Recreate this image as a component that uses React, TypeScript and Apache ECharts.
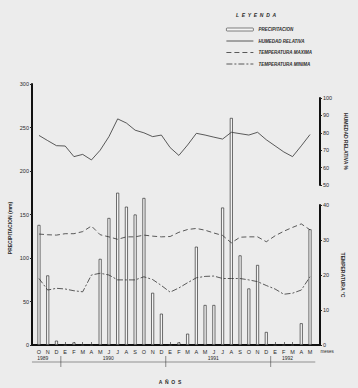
import React, { useEffect, useRef } from "react";
import * as echarts from "echarts";

const months = ["O","N","D","E","F","M","A","M","J","J","A","S","O","N","D","E","F","M","A","M","J","J","A","S","O","N","D","E","F","M","A","M"];
const precipitation = [138, 80, 5, 0, 3, 0, 0, 99, 146, 175, 159, 150, 169, 60, 36, 0, 3, 13, 113, 46, 46, 158, 261, 103, 65, 92, 15, 0, 0, 0, 25, 133];
const humidity = [78.5, 75.5, 72.6, 72.4, 66.3, 67.6, 64.4, 70, 77.8, 88, 85.6, 81.5, 80, 77.8, 78.7, 71.5, 67, 73, 79.7, 78.7, 77.5, 76.4, 80.3, 79.5, 78.7, 80.3, 76, 72.5, 69, 66.3, 72.5, 79];
const tempMax = [31.7, 31.5, 31.4, 31.8, 31.8, 32.4, 34, 31.5, 30.9, 30.2, 30.9, 30.9, 31.4, 31.1, 30.9, 31.0, 32.2, 33, 33.3, 32.8, 32, 31.3, 29.2, 30.8, 30.9, 30.9, 29.5, 31.2, 32.5, 33.6, 34.6, 32.9];
const tempMin = [19, 15.7, 16.2, 16, 15.5, 15.2, 20, 20.5, 20, 18.6, 18.6, 18.6, 19.5, 18.7, 17, 15.1, 16.3, 17.8, 19.2, 19.6, 19.7, 19, 19, 19, 18.6, 18.1, 17, 16, 14.5, 14.8, 15.7, 19.5];
const years = ["1989", "1990", "1991", "1992"];
const yearStart = [0, 3, 15, 27];
const yearEnd = [2, 14, 26, 31];

const FONT = "Liberation Sans";
const INK = "#2a2a2a";

export default function App() {
  const ref = useRef<HTMLDivElement>(null);
  useEffect(() => {
    const chart = echarts.init(ref.current!, null, { renderer: "svg" });
    const gl = 34.6, gr = 358 - 314.4;
    const small = { fontFamily: FONT, fontSize: 5.5, color: INK };
    const axisLine = { show: true, lineStyle: { color: "#111", width: 2 } };
    const hidden = { opacity: 0 };
    chart.setOption({
      animation: false,
      backgroundColor: "#ececec",
      grid: [
        { left: gl, right: gr, top: 84, bottom: 43 },
        { left: gl, right: gr, top: 98, bottom: 203 },
        { left: gl, right: gr, top: 205, bottom: 43 },
      ],
      legend: {
        orient: "vertical",
        left: 221,
        top: 22,
        itemWidth: 27,
        itemHeight: 3,
        itemGap: 6.5,
        textStyle: { fontFamily: FONT, fontSize: 4.5, color: INK, fontStyle: "italic", fontWeight: "bold" },
        data: [
          { name: "PRECIPITACION", itemStyle: { color: "#f4f4f4", borderColor: "#333", borderWidth: 0.6 } },
          { name: "HUMEDAD RELATIVA", itemStyle: hidden, lineStyle: { width: 0.8 } },
          { name: "TEMPERATURA MAXIMA", itemStyle: hidden, lineStyle: { width: 0.8 } },
          { name: "TEMPERATURA MINIMA", itemStyle: hidden, lineStyle: { width: 0.8 } },
        ],
      },
      xAxis: [
        {
          type: "category", gridIndex: 0, data: months, boundaryGap: true,
          axisLine, axisTick: { show: true, inside: true, length: 3, alignWithLabel: true, lineStyle: { color: "#222", width: 0.6 } },
          axisLabel: { ...small, margin: 4, interval: 0 },
          name: "meses", nameLocation: "end", nameGap: 6,
          nameTextStyle: { ...small, fontSize: 4.5, verticalAlign: "top", padding: [4, 0, 0, 0] },
        },
        { type: "category", gridIndex: 1, data: months, boundaryGap: true, show: false },
        { type: "category", gridIndex: 2, data: months, boundaryGap: true, show: false },
      ],
      yAxis: [
        {
          type: "value", gridIndex: 0, position: "left", offset: 2.6, min: 0, max: 300, interval: 50,
          axisLine, axisTick: { show: true, length: 2, lineStyle: { color: "#222" } },
          axisLabel: { ...small, margin: 3 }, splitLine: { show: false },
        },
        {
          type: "value", gridIndex: 1, position: "right", offset: 5.6, min: 50, max: 100, interval: 10,
          axisLine, axisTick: { show: true, length: 2, lineStyle: { color: "#222" } },
          axisLabel: { ...small, margin: 3 }, splitLine: { show: false },
          name: "HUMEDAD RELATIVA %", nameLocation: "middle", nameRotate: -90, nameGap: 20,
          nameTextStyle: { ...small, fontSize: 5, fontWeight: "bold" },
        },
        {
          type: "value", gridIndex: 2, position: "right", offset: 5.6, min: 0, max: 40, interval: 10,
          axisLine, axisTick: { show: true, length: 2, lineStyle: { color: "#222" } },
          axisLabel: { ...small, margin: 3 }, splitLine: { show: false },
          name: "TEMPERATURA °C", nameLocation: "middle", nameRotate: -90, nameGap: 18,
          nameTextStyle: { ...small, fontSize: 5, fontWeight: "bold" },
        },
      ],
      series: [
        {
          name: "PRECIPITACION", type: "bar", xAxisIndex: 0, yAxisIndex: 0, data: precipitation,
          barWidth: 3, itemStyle: { color: "#f4f4f4", borderColor: "#333", borderWidth: 0.7 },
        },
        {
          name: "HUMEDAD RELATIVA", type: "line", xAxisIndex: 1, yAxisIndex: 1, data: humidity,
          symbol: "none", lineStyle: { color: "#333", width: 0.8 }, itemStyle: { color: "#333" },
        },
        {
          name: "TEMPERATURA MAXIMA", type: "line", xAxisIndex: 2, yAxisIndex: 2, data: tempMax,
          symbol: "none", lineStyle: { color: "#333", width: 0.8, type: [5, 3] }, itemStyle: { color: "#333" },
        },
        {
          name: "TEMPERATURA MINIMA", type: "line", xAxisIndex: 2, yAxisIndex: 2, data: tempMin,
          symbol: "none", lineStyle: { color: "#333", width: 0.8, type: [6, 2, 2, 2] }, itemStyle: { color: "#333" },
        },
      ],
    });

    const px = (i: number) => {
      const a = chart.convertToPixel({ xAxisIndex: 0 }, 0) as number;
      const b = chart.convertToPixel({ xAxisIndex: 0 }, 1) as number;
      return a + (b - a) * i;
    };
    const yearGraphics: any[] = [];
    years.forEach((y, k) => {
      const c = px((yearStart[k] + yearEnd[k]) / 2) - 5;
      yearGraphics.push({ type: "text", x: c, y: 357.5, style: { text: y, fontFamily: FONT, fontSize: 5, fill: INK, align: "center", verticalAlign: "middle" } });
      if (k > 0) {
        const s = px(yearStart[k] - 0.5);
        yearGraphics.push({ type: "line", shape: { x1: s, y1: 356, x2: s, y2: 367 }, style: { stroke: "#444", lineWidth: 0.6 } });
      }
    });
    chart.setOption({
      graphic: [
        { type: "line", shape: { x1: 31, y1: 345, x2: 321, y2: 345 }, style: { stroke: "#111", lineWidth: 2 } },
        { type: "line", shape: { x1: px(-0.8), y1: 362, x2: px(31.6), y2: 362 }, style: { stroke: "#555", lineWidth: 0.6 } },
        ...yearGraphics,
        { type: "text", x: 10, y: 228, rotation: Math.PI / 2, style: { text: "PRECIPITACION (mm)", fontFamily: FONT, fontSize: 5, fontWeight: "bold", fill: INK, align: "center", verticalAlign: "middle" } },
        { type: "text", x: 170, y: 382, style: { text: "A  Ñ  O  S", fontFamily: FONT, fontSize: 5, fontWeight: "bold", fill: INK, align: "center", verticalAlign: "middle" } },
        { type: "text", x: 256, y: 15, style: { text: "L  E  Y  E  N  D  A", fontFamily: FONT, fontSize: 5, fontWeight: "bold", fontStyle: "italic", fill: INK, align: "center", verticalAlign: "middle" } },
      ],
    });
    return () => chart.dispose();
  }, []);
  return <div ref={ref} style={{ position: "fixed", left: 0, top: 0, width: 358, height: 388 }} />;
}
